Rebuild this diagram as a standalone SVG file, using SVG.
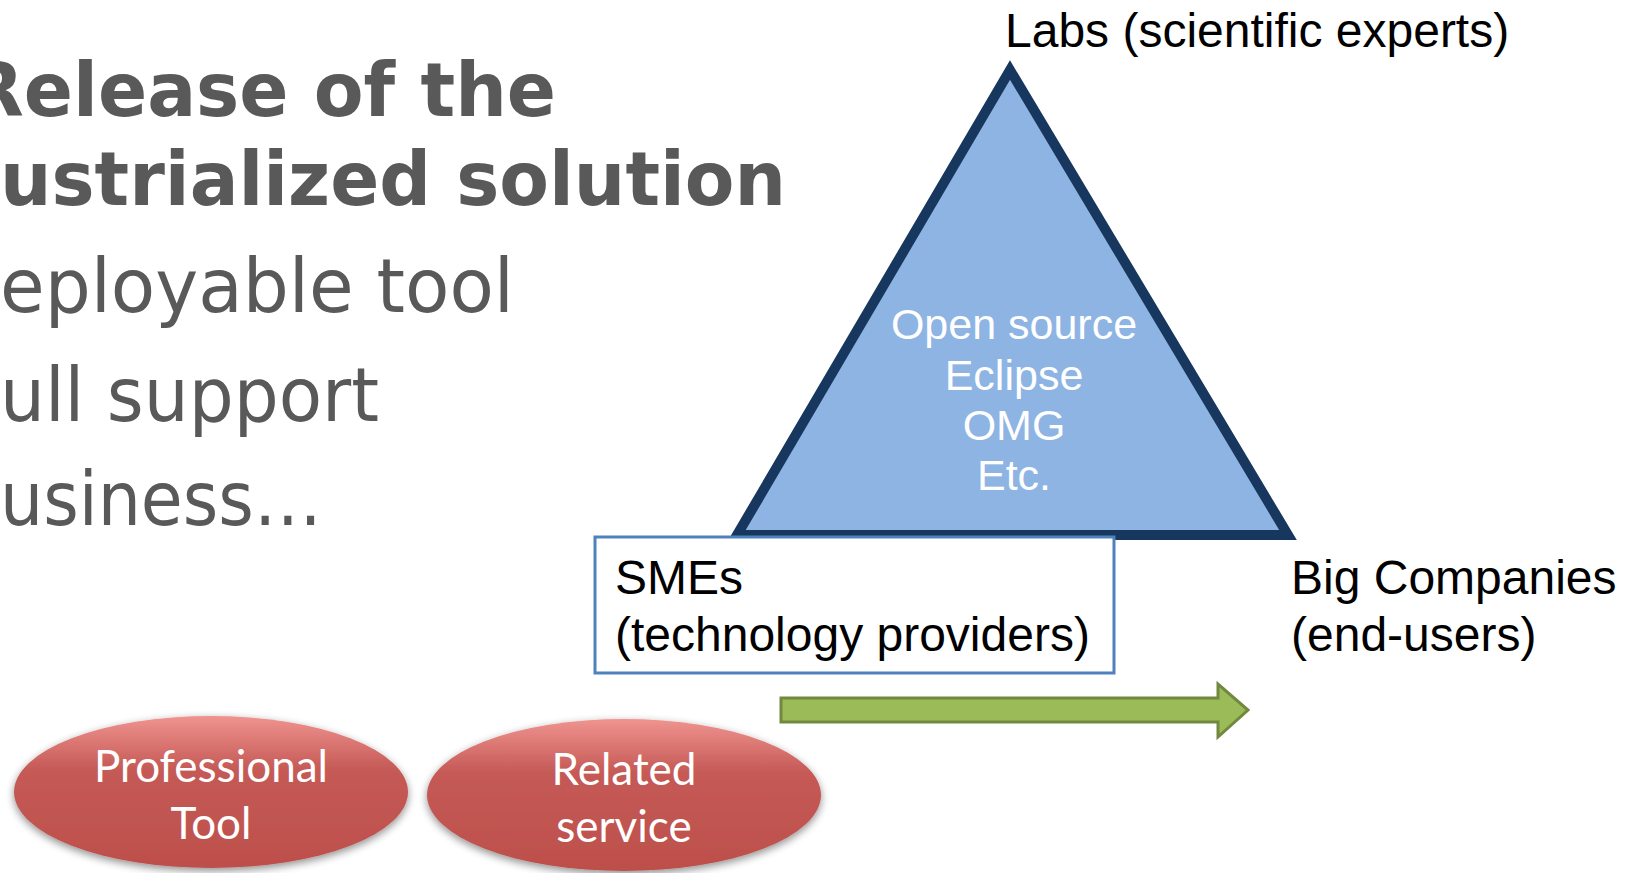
<svg xmlns="http://www.w3.org/2000/svg" width="1629" height="873" viewBox="0 0 1629 873">
<style>
.bold{font-family:"DejaVu Sans",sans-serif;font-weight:bold;font-size:74px;fill:#595959}
.reg{font-family:"DejaVu Sans",sans-serif;font-size:75px;fill:#595959}
.lbl{font-family:"Liberation Sans",Arial,sans-serif;font-size:48px;fill:#000}
.tri{font-family:"Liberation Sans",Arial,sans-serif;font-size:43px;fill:#fff;text-anchor:middle}
.ell{font-family:Lato,"Open Sans",sans-serif;font-size:44px;fill:#fff;text-anchor:middle}
</style>
<defs>
<linearGradient id="eg" x1="0" y1="0" x2="0" y2="1">
<stop offset="0" stop-color="#f0938f"/>
<stop offset="0.35" stop-color="#c55a56"/>
<stop offset="1" stop-color="#bd4f4b"/>
</linearGradient>
<filter id="sh" x="-10%" y="-10%" width="120%" height="130%">
<feGaussianBlur in="SourceAlpha" stdDeviation="4"/>
<feOffset dy="3"/>
<feComponentTransfer><feFuncA type="linear" slope="0.45"/></feComponentTransfer>
<feMerge><feMergeNode/><feMergeNode in="SourceGraphic"/></feMerge>
</filter>
</defs>
<rect width="1629" height="873" fill="#fff"/>
<g id="title">
<text class="bold" x="-32" y="116" textLength="588" lengthAdjust="spacingAndGlyphs">Release of the</text>
<text class="bold" x="0" y="205" textLength="786" lengthAdjust="spacingAndGlyphs">ustrialized solution</text>
<text class="reg" x="0" y="312" textLength="514" lengthAdjust="spacingAndGlyphs">eployable tool</text>
<text class="reg" x="0" y="421" textLength="379" lengthAdjust="spacingAndGlyphs">ull support</text>
<text class="reg" x="0" y="525" textLength="322" lengthAdjust="spacingAndGlyphs">usiness…</text>
</g>
<g id="triangle">
<polygon points="1010,70 737,535 1288,535" fill="#8eb4e3" stroke="#17375e" stroke-width="10" stroke-linejoin="miter"/>
<text class="tri" x="1014" y="339">Open source</text>
<text class="tri" x="1014" y="390">Eclipse</text>
<text class="tri" x="1014" y="440">OMG</text>
<text class="tri" x="1014" y="490">Etc.</text>
</g>
<g id="labs">
<text class="lbl" x="1005" y="47">Labs (scientific experts)</text>
</g>
<g id="smes">
<rect x="595" y="537" width="519" height="136" fill="#fff" stroke="#4f81bd" stroke-width="3"/>
<text class="lbl" x="615" y="594">SMEs</text>
<text class="lbl" x="615" y="651">(technology providers)</text>
</g>
<g id="bigcompanies">
<text class="lbl" x="1291" y="594">Big Companies</text>
<text class="lbl" x="1291" y="651">(end-users)</text>
</g>
<g id="connectors">
<polygon points="781,698 1218,698 1218,684 1248,710 1218,737 1218,722 781,722" fill="#9bbb59" stroke="#71893f" stroke-width="3"/>
</g>
<g id="tool">
<ellipse cx="211" cy="792" rx="197" ry="76" fill="url(#eg)" filter="url(#sh)"/>
<text class="ell" x="211" y="782">Professional</text>
<text class="ell" x="211" y="839">Tool</text>
</g>
<g id="service">
<ellipse cx="624" cy="795" rx="197" ry="76" fill="url(#eg)" filter="url(#sh)"/>
<text class="ell" x="624" y="785">Related</text>
<text class="ell" x="624" y="842">service</text>
</g>
</svg>
